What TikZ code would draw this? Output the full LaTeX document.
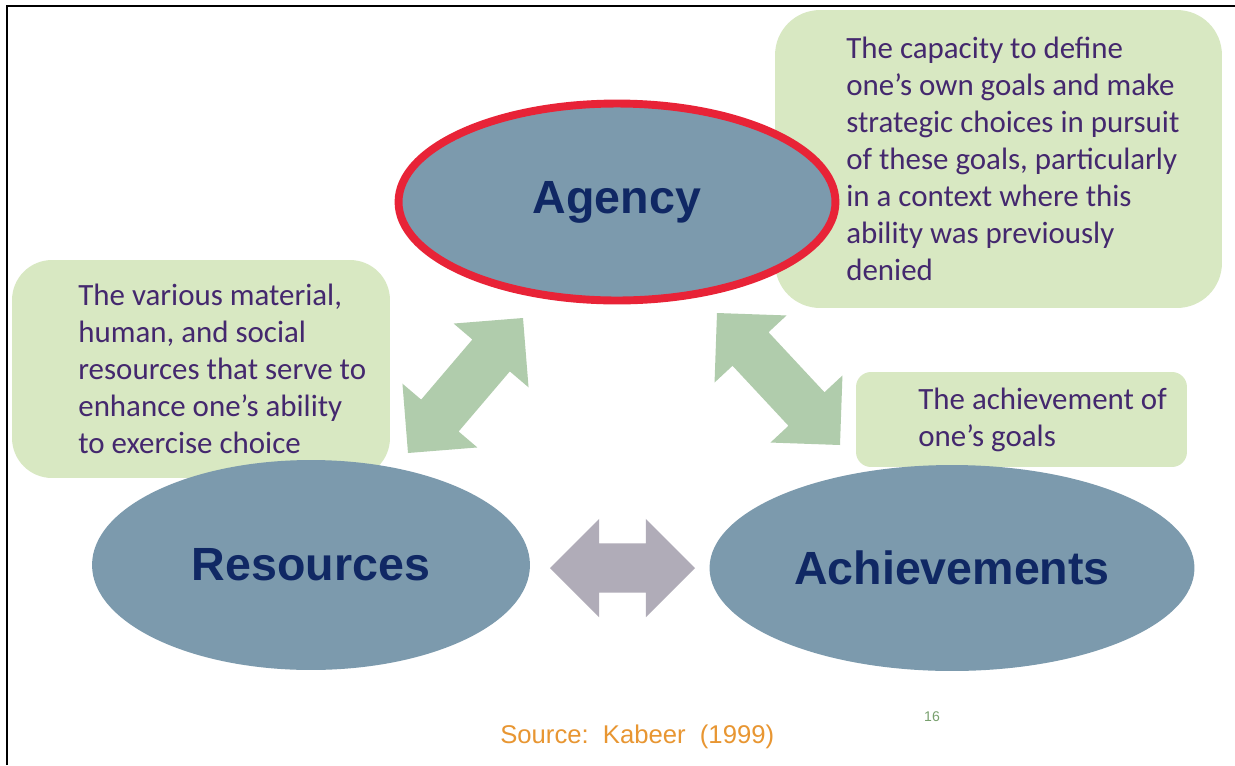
\documentclass[tikz,border=0pt]{standalone}
\usepackage{fontspec}
\setmainfont{Carlito}
\newfontfamily\arialfont{Liberation Sans}
\usetikzlibrary{calc,positioning,shapes.geometric}

\definecolor{ovalblue}{RGB}{124,154,173}
\definecolor{agencyred}{RGB}{232,35,55}
\definecolor{notegreen}{RGB}{216,232,194}
\definecolor{arrowgreen}{RGB}{176,204,172}
\definecolor{arrowgrey}{RGB}{176,172,184}
\definecolor{labelnavy}{RGB}{16,40,100}
\definecolor{notepurple}{RGB}{68,40,110}
\definecolor{srcorange}{RGB}{232,150,50}
\definecolor{pagegreen}{RGB}{120,160,110}

% head length, head half width, shaft half width
\newcommand{\arrowhl}{28pt}
\newcommand{\arrowhw}{28pt}
\newcommand{\arrowsw}{14pt}
\newcommand{\blockarrow}[3]{%
  \fill[#3] (#1)
    -- ($(#1)!\arrowhl!(#2)!\arrowhw!90:(#2)$)
    -- ($(#1)!\arrowhl!(#2)!\arrowsw!90:(#2)$)
    -- ($(#2)!\arrowhl!(#1)!\arrowsw!-90:(#1)$)
    -- ($(#2)!\arrowhl!(#1)!\arrowhw!-90:(#1)$)
    -- (#2)
    -- ($(#2)!\arrowhl!(#1)!\arrowhw!90:(#1)$)
    -- ($(#2)!\arrowhl!(#1)!\arrowsw!90:(#1)$)
    -- ($(#1)!\arrowhl!(#2)!\arrowsw!-90:(#2)$)
    -- ($(#1)!\arrowhl!(#2)!\arrowhw!-90:(#2)$)
    -- cycle;}

\begin{document}
\begin{tikzpicture}[x=0.02cm,y=-0.02cm,
  oval/.style={ellipse,fill=ovalblue,inner sep=0pt,text=labelnavy,
    font=\arialfont\bfseries\fontsize{26.5}{30}\selectfont},
  note/.style={rounded corners=#1,fill=notegreen,inner sep=0pt},
  notetext/.style={anchor=west,align=left,inner sep=0pt,text=notepurple,
    font=\fontsize{17.6}{21}\selectfont}]

  \useasboundingbox (0,0) rectangle (1235,765);
  \fill[white] (0,0) rectangle (1235,765);
  \draw[line width=1.7pt] (7,765) -- (7,6) -- (1235,6);

  % callouts
  \node[note=0.9cm,minimum width=8.94cm,minimum height=5.96cm] (capbox) at (998.5,159) {};
  \node[notetext] (captext) at (846,159) {The capacity to define\\one’s own goals and make\\strategic choices in pursuit\\of these goals, particularly\\in a context where this\\ability was previously\\denied};

  \node[note=0.8cm,minimum width=7.56cm,minimum height=4.36cm] (resbox) at (201,369) {};
  \node[notetext] (restext) at (78,369) {The various material,\\human, and social\\resources that serve to\\enhance one’s ability\\to exercise choice};

  \node[note=0.3cm,minimum width=6.62cm,minimum height=1.9cm] (achbox) at (1021.5,419.5) {};
  \node[notetext] (achtext) at (918,420) {The achievement of\\one’s goals};

  % ovals
  \node[oval,draw=agencyred,line width=4.5pt,minimum width=8.74cm,minimum height=3.94cm] (agency) at (617,202) {Agency};
  \node[oval,minimum width=8.76cm,minimum height=4.2cm] (resources) at (311,565) {Resources};
  \node[oval,minimum width=9.7cm,minimum height=4.12cm] (achievements) at (952,568) {Achievements};

  % block arrows
  \coordinate (ra1) at (408,453);
  \coordinate (ra2) at (523,318);
  \coordinate (aa1) at (717,313);
  \coordinate (aa2) at (840,445);
  \coordinate (rh1) at (550,568);
  \coordinate (rh2) at (695,568);
  \blockarrow{ra1}{ra2}{arrowgreen}
  \blockarrow{aa1}{aa2}{arrowgreen}
  \blockarrow{rh1}{rh2}{arrowgrey}

  \node[anchor=west,inner sep=0pt,text=srcorange,font=\arialfont\fontsize{14.6}{18}\selectfont] (source) at (500,737) {Source:\ \ Kabeer\ \ (1999)};
  \node[inner sep=0pt,text=pagegreen,font=\arialfont\fontsize{8}{10}\selectfont] (pagenum) at (932,717) {16};

\end{tikzpicture}
\end{document}
